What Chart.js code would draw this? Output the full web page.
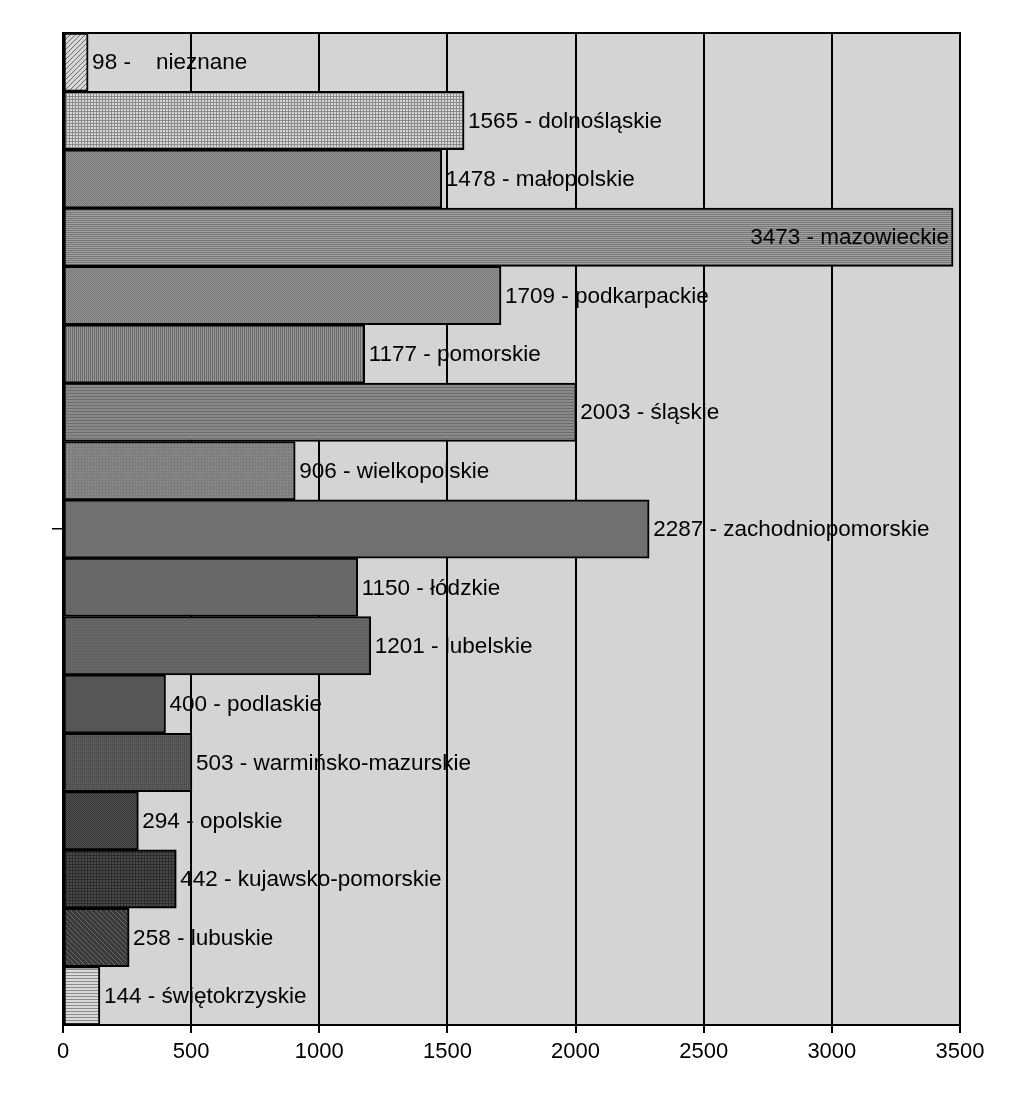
<!DOCTYPE html>
<html>
<head>
<meta charset="utf-8">
<script src="https://cdn.jsdelivr.net/npm/chart.js@4.4.1/dist/chart.umd.min.js"></script>
<style>
  body { margin: 0; background: #ffffff; }
</style>
</head>
<body>
<canvas id="chartGraph" width="1024" height="1119"></canvas>
<script>
const ctx = document.getElementById('chartGraph');

// data
const regions = ['   nieznane', 'dolnośląskie', 'małopolskie', 'mazowieckie', 'podkarpackie',
  'pomorskie', 'śląskie', 'wielkopolskie', 'zachodniopomorskie', 'łódzkie', 'lubelskie',
  'podlaskie', 'warmińsko-mazurskie', 'opolskie', 'kujawsko-pomorskie', 'lubuskie', 'świętokrzyskie'];
const counts = [98, 1565, 1478, 3473, 1709, 1177, 2003, 906, 2287, 1150, 1201, 400, 503, 294, 442, 258, 144];
const xTicks = [0, 500, 1000, 1500, 2000, 2500, 3000, 3500];

// fill patterns, one per bar (base, line, kind, step)
const fills = [
  ['#d6d6d6', '#6e6e6e', 'diag', 5],
  ['#d8d8d8', '#8a8a8a', 'grid', 3],
  ['#969696', '#747474', 'check', 2],
  ['#a2a2a2', '#767676', 'h', 2],
  ['#949494', '#767676', 'check', 2],
  ['#969696', '#6c6c6c', 'v', 2],
  ['#8a8a8a', '#6e6e6e', 'h', 3],
  ['#848484', '#6c6c6c', 'dots', 3],
  ['#777777', '#6a6a6a', 'check', 2],
  ['#6c6c6c', '#646464', 'check', 2],
  ['#666666', '#5c5c5c', 'dots', 2],
  ['#606060', '#4c4c4c', 'check', 2],
  ['#5a5a5a', '#424242', 'dots', 2],
  ['#505050', '#383838', 'check', 2],
  ['#4a4a4a', '#2c2c2c', 'grid', 3],
  ['#3a3a3a', '#6a6a6a', 'diagb', 5],
  ['#dadada', '#8a8a8a', 'h', 3]
];

function makePattern(base, line, kind, step) {
  const c = document.createElement('canvas');
  c.width = step; c.height = step;
  const g = c.getContext('2d');
  g.fillStyle = base;
  g.fillRect(0, 0, step, step);
  g.fillStyle = line;
  switch (kind) {
    case 'h': g.fillRect(0, 0, step, 1); break;
    case 'v': g.fillRect(0, 0, 1, step); break;
    case 'grid': g.fillRect(0, 0, step, 1); g.fillRect(0, 0, 1, step); break;
    case 'dots': g.fillRect(0, 0, 1, 1); break;
    case 'check': g.fillRect(0, 0, 1, 1); g.fillRect(1, 1, 1, 1); break;
    case 'diag': for (let i = 0; i < step; i++) g.fillRect(i, step - 1 - i, 1, 1); break;
    case 'diagb': for (let i = 0; i < step; i++) g.fillRect(i, i, 1, 1); break;
  }
  return ctx.getContext('2d').createPattern(c, 'repeat');
}

const LABEL_FONT = '22.5px "Liberation Sans", Arial, sans-serif';

function labelText(i) {
  return counts[i] + ' - ' + regions[i];
}

// plot background + labels that sit outside the bars (drawn under the grid)
const backAndLabels = {
  id: 'backAndLabels',
  beforeDraw(chart) {
    const a = chart.chartArea;
    const c = chart.ctx;
    c.save();
    c.fillStyle = '#d4d4d4';
    c.fillRect(a.left, a.top, a.right - a.left, a.bottom - a.top);
    c.font = LABEL_FONT;
    c.fillStyle = '#000';
    c.textBaseline = 'middle';
    c.textAlign = 'left';
    chart.data.datasets.forEach((ds, i) => {
      const bar = chart.getDatasetMeta(i).data[0];
      const t = labelText(i);
      const w = c.measureText(t).width;
      if (bar.x + 5 + w <= a.right) {
        c.fillText(t, bar.x + 4, bar.y + 1);
      }
    });
    c.restore();
  },
  afterDatasetsDraw(chart) {
    const a = chart.chartArea;
    const c = chart.ctx;
    c.save();
    c.font = LABEL_FONT;
    c.fillStyle = '#000';
    c.textBaseline = 'middle';
    c.textAlign = 'right';
    chart.data.datasets.forEach((ds, i) => {
      const bar = chart.getDatasetMeta(i).data[0];
      const t = labelText(i);
      const w = c.measureText(t).width;
      if (bar.x + 5 + w > a.right) {
        c.fillText(t, bar.x - 4, bar.y + 1);
      }
    });
    c.strokeStyle = '#000';
    c.lineWidth = 2;
    c.strokeRect(a.left, a.top, a.right - a.left, a.bottom - a.top);
    c.restore();
  }
};

const datasets = counts.map((v, i) => ({
  label: regions[i].trim(),
  data: [v],
  backgroundColor: makePattern(...fills[i]),
  borderColor: '#000',
  borderWidth: 2,
  borderSkipped: false,
  barPercentage: 1,
  categoryPercentage: 1
}));

Chart.defaults.font.family = '"Liberation Sans", Arial, sans-serif';
Chart.defaults.color = '#000';

const myChart = new Chart(ctx, {
  type: 'bar',
  data: {
    labels: [''],
    datasets: datasets
  },
  options: {
    indexAxis: 'y',
    responsive: false,
    animation: false,
    layout: { padding: { left: 0, top: 33, right: 64, bottom: 0 } },
    scales: {
      x: {
        min: 0,
        max: 3500,
        afterFit: (s) => { s.height = 94; },
        afterBuildTicks: (s) => { s.ticks = xTicks.map((v) => ({ value: v })); },
        ticks: { font: { size: 22 }, padding: 6, maxRotation: 0, color: '#000', callback: (v) => String(v) },
        grid: { color: '#000', lineWidth: 2, tickLength: 8 },
        border: { color: '#000', width: 2 }
      },
      y: {
        afterFit: (s) => { s.width = 63; },
        ticks: { callback: () => '' },
        grid: { drawOnChartArea: false, offset: false, tickLength: 11, color: '#000', lineWidth: 1.5 },
        border: { color: '#000', width: 2 }
      }
    },
    plugins: {
      legend: { display: false },
      tooltip: { enabled: false }
    }
  },
  plugins: [backAndLabels]
});
</script>
</body>
</html>
